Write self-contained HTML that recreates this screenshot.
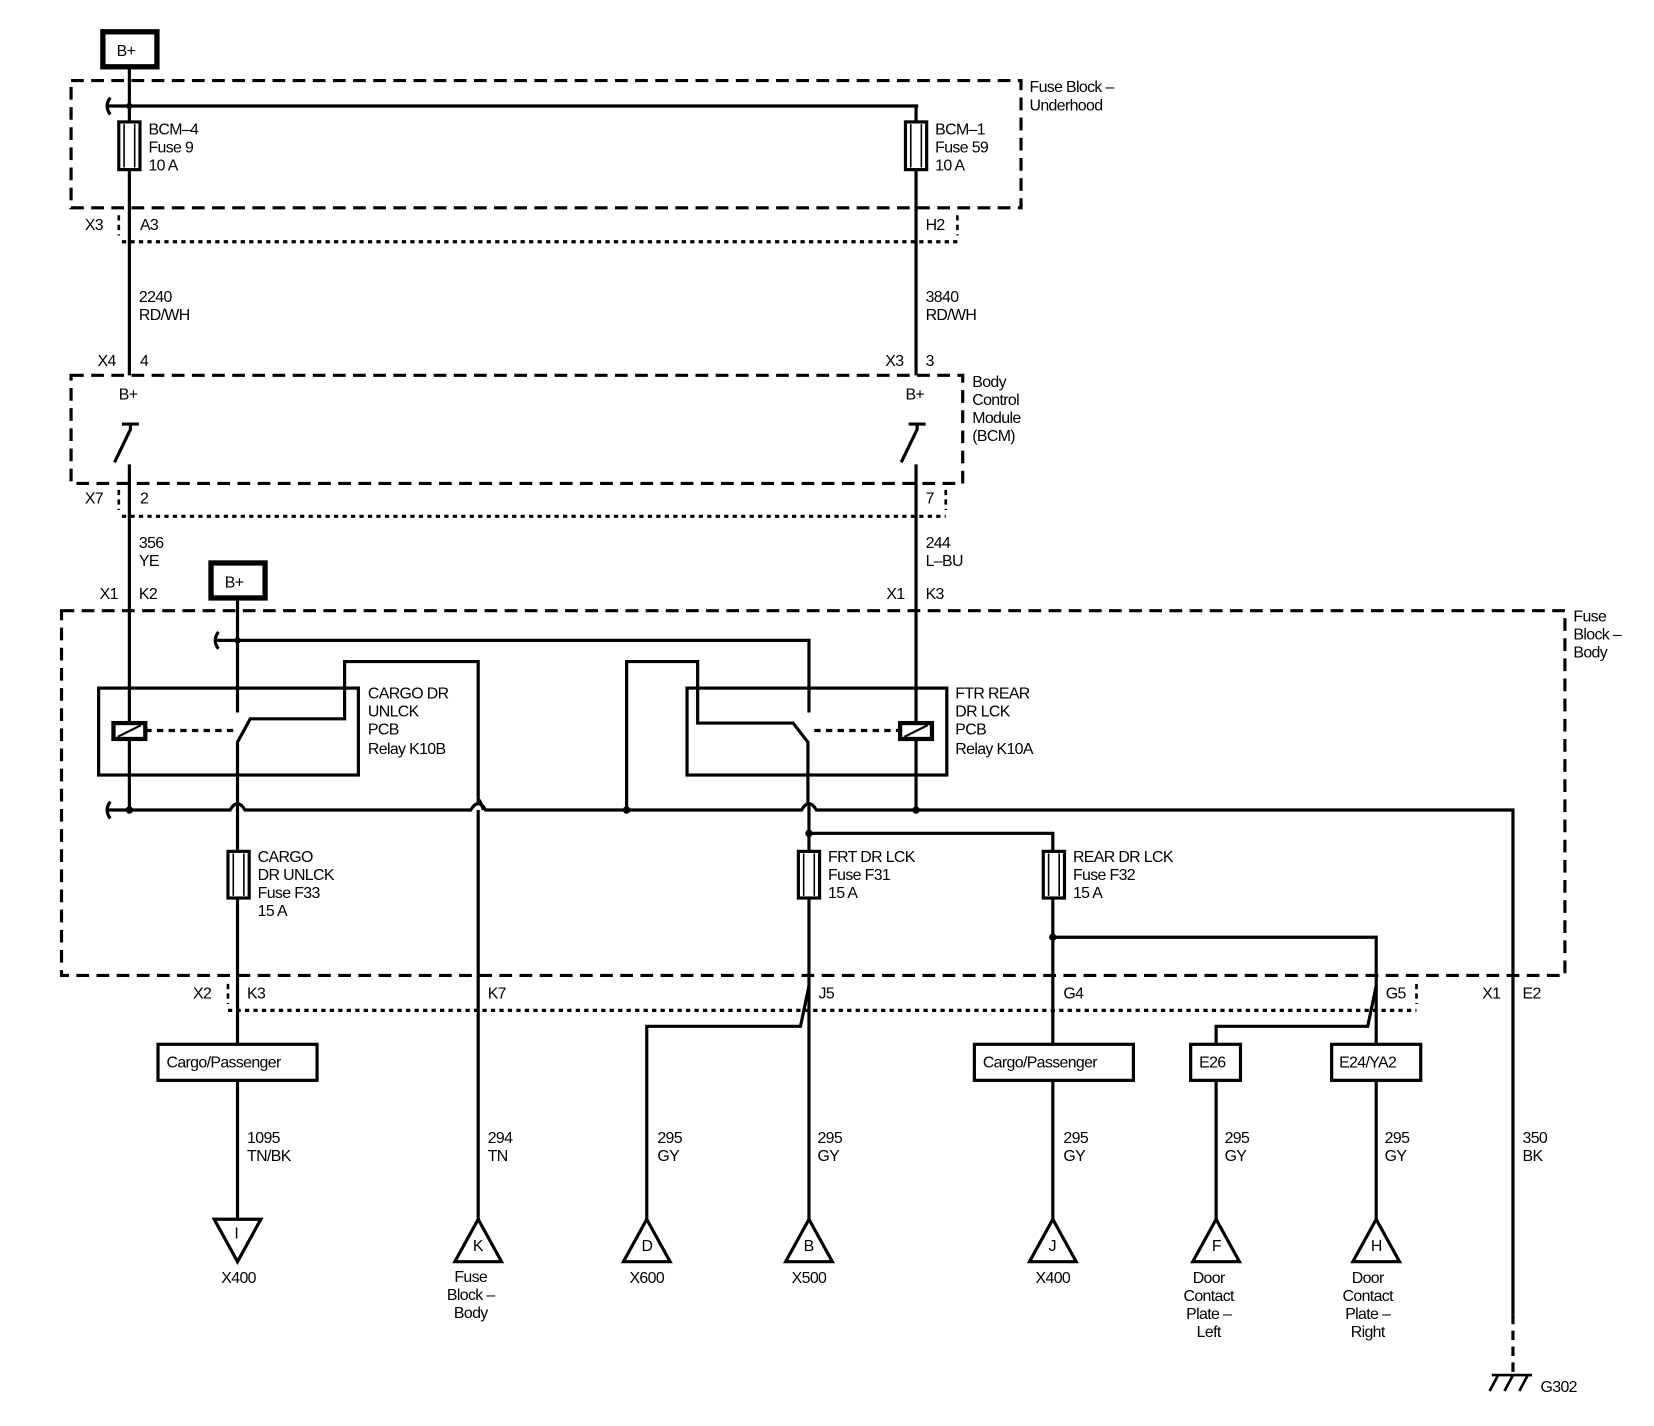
<!DOCTYPE html>
<html><head><meta charset="utf-8"><style>
html,body{margin:0;padding:0;background:#fff}
svg{display:block}
text{font-family:"Liberation Sans",sans-serif;font-size:15px;fill:#000;letter-spacing:-0.6px}
</style></head><body>
<svg width="1654" height="1426" viewBox="0 0 1560 1345" xmlns="http://www.w3.org/2000/svg">
<g fill="none" stroke="#000" stroke-width="3">
<!-- B+ boxes -->
<rect x="97" y="30" width="51" height="33" stroke-width="5"/>
<rect x="199" y="531" width="51" height="33" stroke-width="5"/>
<!-- dashed modules -->
<g stroke-dasharray="12,7">
<rect x="67" y="76" width="896" height="120"/>
<rect x="67" y="354" width="841" height="102"/>
<rect x="58" y="576" width="1418" height="344"/>
</g>
<!-- connector dotted -->
<g stroke-dasharray="4,4">
<line x1="115" y1="228" x2="903" y2="228"/>
<line x1="115" y1="487" x2="892" y2="487"/>
<line x1="215" y1="953" x2="1336" y2="953"/>
</g>
<g stroke-dasharray="5,4" stroke-width="2.5">
<line x1="112" y1="203" x2="112" y2="222"/><line x1="903" y1="203" x2="903" y2="222"/>
<line x1="112" y1="462" x2="112" y2="481"/><line x1="892" y1="462" x2="892" y2="481"/>
<line x1="215" y1="928" x2="215" y2="947"/><line x1="1336" y1="928" x2="1336" y2="947"/>
<line x1="1427" y1="1240" x2="1427" y2="1295" stroke-dasharray="9,6" stroke-width="3"/>
</g>
<!-- top wires -->
<line x1="122" y1="65" x2="122" y2="354"/>
<line x1="864" y1="100" x2="864" y2="354"/>
<path d="M104 92 Q98 100 104 108 M102 100 H866"/>
<rect x="112" y="115" width="20" height="45" fill="#fff"/>
<line x1="117" y1="117" x2="117" y2="158" stroke-width="1.5"/><line x1="127" y1="117" x2="127" y2="158" stroke-width="1.5"/>
<rect x="854" y="115" width="20" height="45" fill="#fff"/>
<line x1="859" y1="117" x2="859" y2="158" stroke-width="1.5"/><line x1="869" y1="117" x2="869" y2="158" stroke-width="1.5"/>
<!-- BCM switches -->
<path d="M115 400 H131 M123 400 V405 L108 436 M122 438 V682"/>
<path d="M857 400 H873 M865 400 V405 L850 436 M864 438 V682"/>
<!-- relay boxes -->
<rect x="93" y="649" width="245" height="82"/>
<rect x="648" y="649" width="245" height="82"/>
<!-- coils -->
<rect x="107" y="682" width="30" height="15" stroke-width="4"/><line x1="111" y1="695" x2="133" y2="684" stroke-width="2"/>
<rect x="849" y="682" width="30" height="15" stroke-width="4"/><line x1="853" y1="695" x2="875" y2="684" stroke-width="2"/>
<line x1="122" y1="697" x2="122" y2="764"/>
<line x1="864" y1="697" x2="864" y2="764"/>
<line x1="137" y1="689" x2="225" y2="689" stroke-dasharray="6,5"/>
<line x1="768" y1="689" x2="849" y2="689" stroke-dasharray="6,5"/>
<!-- K10B switch -->
<path d="M224 566 V672 M224 1150 V700 L236 678 H325 V624 H451 V757 Q451 750 456 764"/>
<path d="M206 596 Q200 604 206 612 M204 604 H763 V672"/>
<!-- K10A -->
<path d="M591 764 V624 H658 V682 H748 L762 700 V757"/>
<!-- bus -->
<path d="M104 756 Q98 764 104 772 M102 764 H217 Q224 752 231 764 H444 Q451 752 458 764 H756 Q763 752 770 764 H1427 V1240"/>
<line x1="451" y1="764" x2="451" y2="1150"/>
<line x1="763" y1="757" x2="763" y2="1150"/>
<path d="M763 786 H993 V985"/>
<!-- fuses lower -->
<rect x="215" y="803" width="20" height="44" fill="#fff"/>
<line x1="220" y1="805" x2="220" y2="845" stroke-width="1.5"/><line x1="230" y1="805" x2="230" y2="845" stroke-width="1.5"/>
<rect x="753" y="803" width="20" height="44" fill="#fff"/>
<line x1="758" y1="805" x2="758" y2="845" stroke-width="1.5"/><line x1="768" y1="805" x2="768" y2="845" stroke-width="1.5"/>
<rect x="984" y="803" width="20" height="44" fill="#fff"/>
<line x1="989" y1="805" x2="989" y2="845" stroke-width="1.5"/><line x1="999" y1="805" x2="999" y2="845" stroke-width="1.5"/>
<path d="M993 884 H1298 V985"/>
<path d="M763 930 L755 968 H610 V1150"/>
<path d="M1298 930 L1290 968 H1147 V985"/>
<line x1="993" y1="1019" x2="993" y2="1150"/>
<line x1="1147" y1="1019" x2="1147" y2="1150"/>
<line x1="1298" y1="1019" x2="1298" y2="1150"/>
<!-- boxes -->
<rect x="149" y="985" width="150" height="34" fill="#fff"/>
<rect x="919" y="985" width="150" height="34" fill="#fff"/>
<rect x="1123" y="985" width="47" height="34" fill="#fff"/>
<rect x="1256" y="985" width="84" height="34" fill="#fff"/>
<!-- triangles -->
<path d="M202 1150 H246 L224 1190 Z"/>
<path d="M451 1150 L429 1190 H473 Z"/>
<path d="M610 1150 L588 1190 H632 Z"/>
<path d="M763 1150 L741 1190 H785 Z"/>
<path d="M993 1150 L971 1190 H1015 Z"/>
<path d="M1147 1150 L1125 1190 H1169 Z"/>
<path d="M1298 1150 L1276 1190 H1320 Z"/>
<!-- ground -->
<path d="M1407 1297 H1445 M1413 1297 L1405 1312 M1427 1297 L1419 1312 M1441 1297 L1433 1312" stroke-width="2.5"/>
</g>
<g fill="#000">
<circle cx="122" cy="100" r="3"/><circle cx="224" cy="604" r="3"/>
<circle cx="122" cy="764" r="3.5"/><circle cx="591" cy="764" r="3.5"/><circle cx="864" cy="764" r="3.5"/>
<circle cx="763" cy="786" r="3.5"/><circle cx="993" cy="884" r="3.5"/>
</g>
<g>
<text x="110" y="53">B+</text><text x="212" y="554">B+</text>
<text x="971" y="87">Fuse Block –</text><text x="971" y="104">Underhood</text>
<text x="140" y="127">BCM–4</text><text x="140" y="144">Fuse 9</text><text x="140" y="161">10 A</text>
<text x="882" y="127">BCM–1</text><text x="882" y="144">Fuse 59</text><text x="882" y="161">10 A</text>
<text x="80" y="217">X3</text><text x="132" y="217">A3</text><text x="873" y="217">H2</text>
<text x="131" y="285">2240</text><text x="131" y="302">RD/WH</text>
<text x="873" y="285">3840</text><text x="873" y="302">RD/WH</text>
<text x="92" y="345">X4</text><text x="132" y="345">4</text><text x="835" y="345">X3</text><text x="873" y="345">3</text>
<text x="112" y="377">B+</text><text x="854" y="377">B+</text>
<text x="917" y="365">Body</text><text x="917" y="382">Control</text><text x="917" y="399">Module</text><text x="917" y="416">(BCM)</text>
<text x="80" y="475">X7</text><text x="132" y="475">2</text><text x="873" y="475">7</text>
<text x="131" y="517">356</text><text x="131" y="534">YE</text>
<text x="873" y="517">244</text><text x="873" y="534">L–BU</text>
<text x="94" y="565">X1</text><text x="131" y="565">K2</text><text x="836" y="565">X1</text><text x="873" y="565">K3</text>
<text x="1484" y="586">Fuse</text><text x="1484" y="603">Block –</text><text x="1484" y="620">Body</text>
<text x="347" y="659">CARGO DR</text><text x="347" y="676">UNLCK</text><text x="347" y="693">PCB</text><text x="347" y="711">Relay K10B</text>
<text x="901" y="659">FTR REAR</text><text x="901" y="676">DR LCK</text><text x="901" y="693">PCB</text><text x="901" y="711">Relay K10A</text>
<text x="243" y="813">CARGO</text><text x="243" y="830">DR UNLCK</text><text x="243" y="847">Fuse F33</text><text x="243" y="864">15 A</text>
<text x="781" y="813">FRT DR LCK</text><text x="781" y="830">Fuse F31</text><text x="781" y="847">15 A</text>
<text x="1012" y="813">REAR DR LCK</text><text x="1012" y="830">Fuse F32</text><text x="1012" y="847">15 A</text>
<text x="182" y="942">X2</text><text x="233" y="942">K3</text><text x="460" y="942">K7</text><text x="772" y="942">J5</text>
<text x="1003" y="942">G4</text><text x="1307" y="942">G5</text><text x="1398" y="942">X1</text><text x="1436" y="942">E2</text>
<text x="157" y="1007">Cargo/Passenger</text><text x="927" y="1007">Cargo/Passenger</text>
<text x="1131" y="1007">E26</text><text x="1263" y="1007">E24/YA2</text>
<text x="233" y="1078">1095</text><text x="233" y="1095">TN/BK</text>
<text x="460" y="1078">294</text><text x="460" y="1095">TN</text>
<text x="620" y="1078">295</text><text x="620" y="1095">GY</text>
<text x="771" y="1078">295</text><text x="771" y="1095">GY</text>
<text x="1003" y="1078">295</text><text x="1003" y="1095">GY</text>
<text x="1155" y="1078">295</text><text x="1155" y="1095">GY</text>
<text x="1306" y="1078">295</text><text x="1306" y="1095">GY</text>
<text x="1436" y="1078">350</text><text x="1436" y="1095">BK</text>
<text x="221" y="1168" font-size="13">I</text><text x="446" y="1180" font-size="13">K</text>
<text x="605" y="1180" font-size="13">D</text><text x="758" y="1180" font-size="13">B</text>
<text x="989" y="1180" font-size="13">J</text><text x="1143" y="1180" font-size="13">F</text><text x="1293" y="1180" font-size="13">H</text>
<g text-anchor="middle">
<text x="225" y="1210">X400</text>
<text x="444" y="1209">Fuse</text><text x="444" y="1226">Block –</text><text x="444" y="1243">Body</text>
<text x="610" y="1210">X600</text><text x="763" y="1210">X500</text><text x="993" y="1210">X400</text>
<text x="1140" y="1210">Door</text><text x="1140" y="1227">Contact</text><text x="1140" y="1244">Plate –</text><text x="1140" y="1261">Left</text>
<text x="1290" y="1210">Door</text><text x="1290" y="1227">Contact</text><text x="1290" y="1244">Plate –</text><text x="1290" y="1261">Right</text>
</g>
<text x="1453" y="1313">G302</text>
</g>
</svg>
</body></html>
